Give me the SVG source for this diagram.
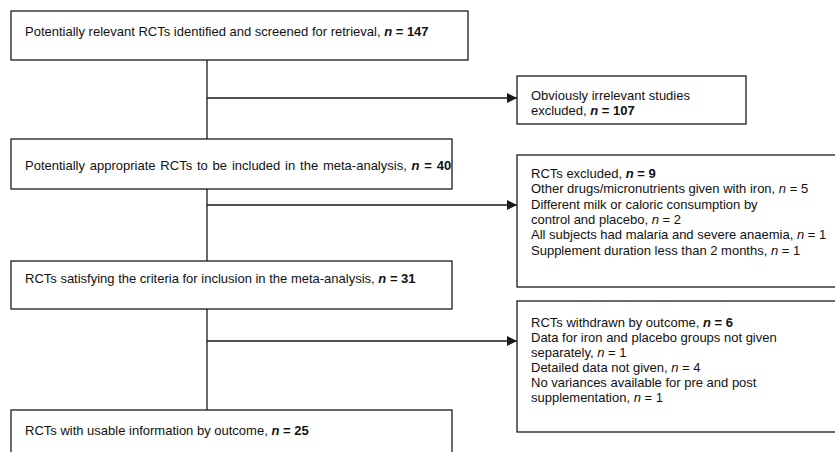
<svg xmlns="http://www.w3.org/2000/svg" width="835" height="452" viewBox="0 0 835 452">
<style>
.box{fill:#fff;stroke:#1a1a1a;stroke-width:1.3}
.ln{fill:none;stroke:#1a1a1a;stroke-width:1.3}
text{font-family:"Liberation Sans",Arial,sans-serif;font-size:13px;fill:#111}
.n{font-weight:bold;font-style:italic}
.b{font-weight:bold}
.i{font-style:italic}
</style>
<defs>
<marker id="ah" viewBox="0 0 10 10" refX="10" refY="5" markerWidth="14" markerHeight="10" markerUnits="userSpaceOnUse" orient="auto">
<path d="M0,0 L10,5 L0,10 z" fill="#1a1a1a"/>
</marker>
</defs>
<rect width="835" height="452" fill="#fff"/>
<g id="connectors">
<line class="ln" x1="207" y1="60" x2="207" y2="139"/>
<line class="ln" x1="207" y1="98" x2="517" y2="98" marker-end="url(#ah)"/>
<line class="ln" x1="207" y1="189" x2="207" y2="261"/>
<line class="ln" x1="207" y1="205" x2="517" y2="205" marker-end="url(#ah)"/>
<line class="ln" x1="207" y1="309" x2="207" y2="410"/>
<line class="ln" x1="207" y1="341" x2="517" y2="341" marker-end="url(#ah)"/>
</g>
<g id="n1">
<rect class="box" x="11" y="11" width="457" height="49"/>
<text x="25" y="36">Potentially relevant RCTs identified and screened for retrieval, <tspan class="n">n</tspan><tspan class="b"> = 147</tspan></text>
</g>
<g id="n2">
<rect class="box" x="517" y="76" width="229" height="48"/>
<text x="531" y="100">Obviously irrelevant studies</text>
<text x="531" y="115">excluded, <tspan class="n">n</tspan><tspan class="b"> = 107</tspan></text>
</g>
<g id="n3">
<rect class="box" x="11" y="139" width="441" height="50"/>
<text x="25" y="170" word-spacing="1.2">Potentially appropriate RCTs to be included in the meta-analysis, <tspan class="n">n</tspan><tspan class="b"> = 40</tspan></text>
</g>
<g id="n4">
<rect class="box" x="517" y="155" width="330" height="132"/>
<text x="531" y="178">RCTs excluded, <tspan class="n">n</tspan><tspan class="b"> = 9</tspan></text>
<text x="531" y="193.3">Other drugs/micronutrients given with iron, <tspan class="i">n</tspan> = 5</text>
<text x="531" y="208.6">Different milk or caloric consumption by</text>
<text x="531" y="223.9">control and placebo, <tspan class="i">n</tspan> = 2</text>
<text x="531" y="239.2">All subjects had malaria and severe anaemia, <tspan class="i">n</tspan> = 1</text>
<text x="531" y="254.5">Supplement duration less than 2 months, <tspan class="i">n</tspan> = 1</text>
</g>
<g id="n5">
<rect class="box" x="11" y="261" width="441" height="48"/>
<text x="25" y="283">RCTs satisfying the criteria for inclusion in the meta-analysis, <tspan class="n">n</tspan><tspan class="b"> = 31</tspan></text>
</g>
<g id="n6">
<rect class="box" x="517" y="301" width="330" height="131"/>
<text x="531" y="327">RCTs withdrawn by outcome, <tspan class="n">n</tspan><tspan class="b"> = 6</tspan></text>
<text x="531" y="342">Data for iron and placebo groups not given</text>
<text x="531" y="357">separately, <tspan class="i">n</tspan> = 1</text>
<text x="531" y="372">Detailed data not given, <tspan class="i">n</tspan> = 4</text>
<text x="531" y="387">No variances available for pre and post</text>
<text x="531" y="402">supplementation, <tspan class="i">n</tspan> = 1</text>
</g>
<g id="n7">
<rect class="box" x="11" y="410" width="441" height="60"/>
<text x="25" y="435">RCTs with usable information by outcome, <tspan class="n">n</tspan><tspan class="b"> = 25</tspan></text>
</g>
</svg>
